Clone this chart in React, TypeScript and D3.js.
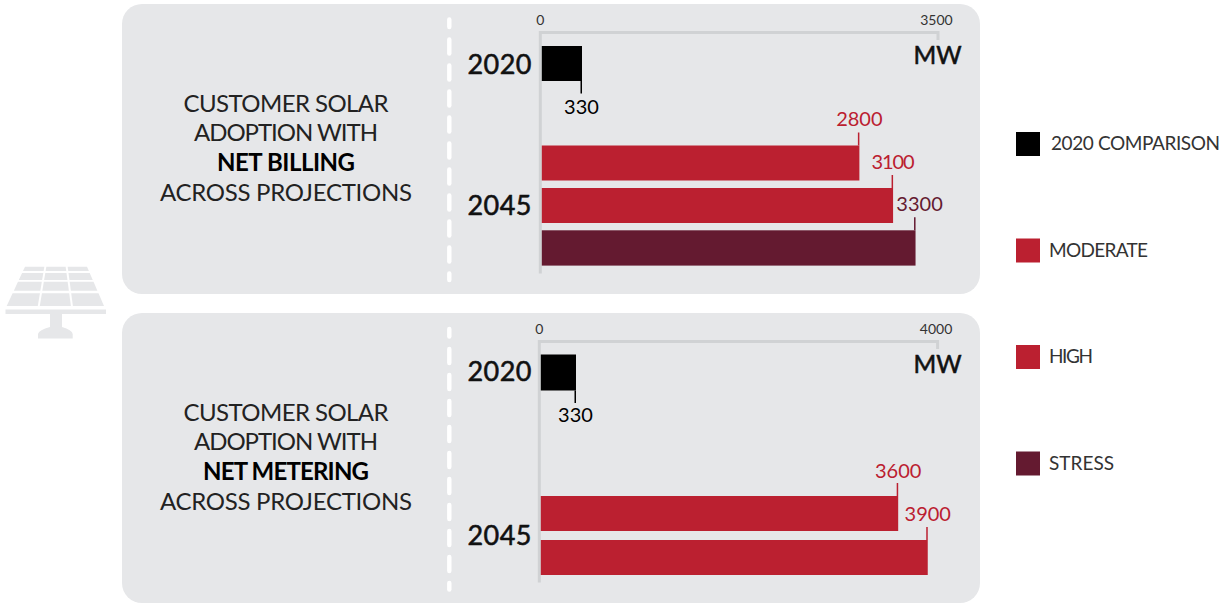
import React, { useEffect, useRef } from "react";
import * as d3 from "d3";

const W = 1231, H = 603;
const GREY = "#e6e7e9", AXIS = "#d0d2d4", RED = "#bb2030", DARK = "#641a30", BLACK = "#000000";
const FONT = "Lato, sans-serif";

const legendLabels = ["2020 COMPARISON", "MODERATE", "HIGH", "STRESS"];
const legendColors = [BLACK, RED, RED, DARK];

const billingValues = [330, 2800, 3100, 3300];
const billingColors = [BLACK, RED, RED, DARK];
const meteringValues = [330, 3600, 3900];
const meteringColors = [BLACK, RED, RED];

const billingLines = ["CUSTOMER SOLAR", "ADOPTION WITH", "NET BILLING", "ACROSS PROJECTIONS"];
const meteringLines = ["CUSTOMER SOLAR", "ADOPTION WITH", "NET METERING", "ACROSS PROJECTIONS"];

// Set widths that keep the copy on the same measure as the panel layout
const textWidths: Record<string, number> = {
  "CUSTOMER SOLAR": 205, "ADOPTION WITH": 184, "NET BILLING": 138, "NET METERING": 166,
  "ACROSS PROJECTIONS": 252, "2020 COMPARISON": 169, MODERATE: 99, HIGH: 44, STRESS: 65,
  "3100": 43, "2020": 64, "2045": 64,
};

export default function App() {
  const ref = useRef<SVGSVGElement>(null);
  useEffect(() => {
    const svg = d3.select(ref.current!);
    svg.selectAll("*").remove();

    const txt = (g: any, x: number, y: number, s: string, size: number, fill: string, anchor = "middle", weight = 400) => {
      const t = g.append("text").attr("x", x).attr("y", y).attr("text-anchor", anchor)
        .attr("font-size", size).attr("font-weight", weight).attr("font-family", FONT).attr("fill", fill).text(s);
      if (textWidths[s]) t.attr("textLength", textWidths[s]).attr("lengthAdjust", "spacing");
      return t;
    };
    // Medium-weight display text: regular face with a hairline outline
    const medium = (g: any, x: number, y: number, s: string, size: number) =>
      txt(g, x, y, s, size, "#111").attr("stroke", "#111").attr("stroke-width", 0.55);

    const panel = (cfg: any) => {
      const g = svg.append("g");
      const top = cfg.top;
      g.append("rect").attr("x", 122).attr("y", top).attr("width", 858).attr("height", 290).attr("rx", 20).attr("fill", GREY);

      // White divider: short dashes at both ends, even dashes between
      const d0 = top + cfg.dash;
      const segments: [number, number][] = [
        [d0, d0 + 12],
        ...d3.range(0, 9).map((k) => [d0 + 20 + k * 26, d0 + 38.5 + k * 26] as [number, number]),
        [d0 + 254, d0 + 265],
      ];
      g.selectAll(null).data(segments).join("line")
        .attr("x1", 449.3).attr("x2", 449.3)
        .attr("y1", (d: [number, number]) => d[0] + 2.2).attr("y2", (d: [number, number]) => d[1] - 2.2)
        .attr("stroke", "#fff").attr("stroke-width", 4.4).attr("stroke-linecap", "round");

      cfg.lines.forEach((s: string, i: number) =>
        txt(g, 286, top + 107.5 + i * 29.8, s, 24, i === 2 ? "#000" : "#222", "middle", i === 2 ? 700 : 400));

      const x = d3.scaleLinear().domain(cfg.domain).range(cfg.range);
      const end = cfg.domain[cfg.domain.length - 1];
      const x0 = x(0);
      // L-shaped frame: top rule with a short end tick and the long baseline
      g.append("path").attr("fill", "none").attr("stroke", AXIS).attr("stroke-width", 3)
        .attr("d", `M${x0},${top + 269.5}V${top + 28.5}H${x(end)}V${top + 36}`);
      txt(g, x0, top + 21, "0", 14, "#333");
      txt(g, x(end) - 1.5, top + 21, String(end), 14, "#333");
      medium(g, 937.5, top + 60, "MW", 24.5);
      medium(g, 499.5, cfg.year20, "2020", 27);
      medium(g, 499.5, cfg.year45, "2045", 27);

      cfg.values.forEach((v: number, i: number) => {
        const y = cfg.ys[i], h = cfg.hs[i], c = cfg.colors[i], right = x(v);
        g.append("rect").attr("x", x0 + 1.5).attr("y", y).attr("width", right - x0 - 1.5).attr("height", h).attr("fill", c);
        if (i === 0) {
          g.append("line").attr("x1", right - 0.75).attr("x2", right - 0.75).attr("y1", y + h).attr("y2", y + h + 12.5).attr("stroke", c).attr("stroke-width", 1.5);
          txt(g, right - 0.5, cfg.ys[0] + h + cfg.lowLabel, String(v), 20, c);
        } else {
          g.append("line").attr("x1", right - 0.75).attr("x2", right - 0.75).attr("y1", y).attr("y2", y - 13).attr("stroke", c).attr("stroke-width", 1.5);
          txt(g, right + cfg.nudge[i], y - 19.5 + cfg.lift[i], String(v), 20, c);
        }
      });
    };

    panel({
      top: 4, lines: billingLines, values: billingValues, colors: billingColors,
      domain: [0, 330, 3500], range: [540.3, 582, 938],
      ys: [46, 145.5, 188, 230.3], hs: [35, 35, 35, 35.3],
      year20: 73.5, year45: 214.5, lowLabel: 33, nudge: [0, 0, 0, 4], lift: [0, 0, 0, 0], dash: 13.2,
    });
    panel({
      top: 313, lines: meteringLines, values: meteringValues, colors: meteringColors,
      domain: [0, 330, 4000], range: [539.3, 576, 937.6],
      ys: [354.5, 496, 540], hs: [36, 35, 35],
      year20: 381, year45: 545, lowLabel: 31.5, nudge: [0, 0, 0], lift: [0, 1.5, 0], dash: 13.7,
    });

    legendLabels.forEach((s, i) => {
      const y = 132 + i * 106.5;
      svg.append("rect").attr("x", 1016).attr("y", y).attr("width", 24).attr("height", 24).attr("fill", legendColors[i]);
      txt(svg, i === 0 ? 1051 : 1049, y + 18, s, 19, "#333", "start");
    });

    // Solar panel emblem on the left margin: a trapezoid cut into a 3x4 grid
    const ico = svg.append("g").attr("fill", GREY);
    ico.append("rect").attr("x", 5.5).attr("y", 309.5).attr("width", 100.5).attr("height", 4.5);
    ico.append("path").attr("d", "M50,314H62V327Q72,330 72.7,334V338.5H38V334Q39,330 50,327Z");
    const rowEdges: [number, number][] = [[266.7, 271], [273, 280], [281.8, 290.7], [293.3, 306]];
    const edge = (yy: number) => {
      const t = (yy - 266.7) / (306 - 266.7);
      return [24 + (5.7 - 24) * t, 88 + (105 - 88) * t];
    };
    const outline = d3.line();
    rowEdges.forEach(([y0, y1]) => {
      d3.range(3).forEach((c) => {
        const a = edge(y0), b = edge(y1);
        const at = (e: number[], k: number, pad: number) => e[0] + (e[1] - e[0]) * k + pad;
        ico.append("path").attr("d", outline([
          [at(a, c / 3, 1), y0], [at(a, (c + 1) / 3, -1), y0],
          [at(b, (c + 1) / 3, -1), y1], [at(b, c / 3, 1), y1],
        ] as [number, number][])! + "Z");
      });
    });
  }, []);
  return <svg ref={ref} width={W} height={H} style={{ position: "absolute", left: 0, top: 0, background: "#fff" }} />;
}
